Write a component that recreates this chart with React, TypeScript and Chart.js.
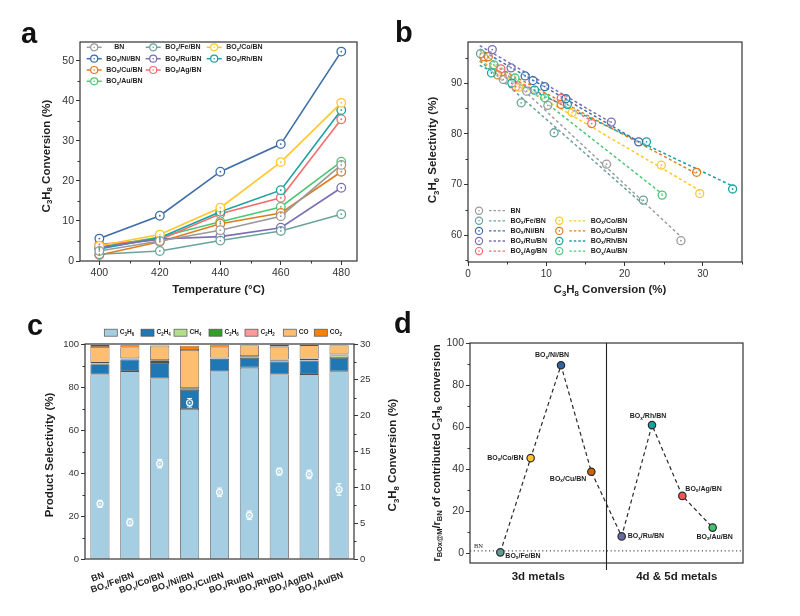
import React, { useEffect, useRef } from "react";
import { Chart, registerables } from "chart.js";

Chart.register(...registerables);

const SANS = "'Liberation Sans', Arial, Helvetica, sans-serif";
const SERIF = "'Liberation Serif', 'DejaVu Serif', serif";
const INK = "#1e1e1e";
const AXIS = "#333";

// ---------- shared catalyst naming / colours ----------
const catalystNames = ["BN", "BO_x/Fe/BN", "BO_x/Co/BN", "BO_x/Ni/BN", "BO_x/Ru/BN", "BO_x/Rh/BN", "BO_x/Cu/BN", "BO_x/Ag/BN", "BO_x/Au/BN"];
const catalystColors = ["#9a9a9a", "#6aa39b", "#ffc72c", "#3d6ea8", "#7b6fb3", "#17a2a2", "#e07b20", "#f26d6d", "#4cc776"];

// ---------- (a) C3H8 conversion vs temperature ----------
const temperatures = [400, 420, 440, 460, 480];
const tempTicks = [400, 420, 440, 460, 480];
const convTicksA = [0, 10, 20, 30, 40, 50];
const convBN = [2.5, 5.0, 7.7, 11.2, 24.0];
const convFe = [1.7, 2.5, 5.1, 7.5, 11.7];
const convCo = [3.8, 6.6, 13.3, 24.7, 39.5];
const convNi = [5.6, 11.3, 22.3, 29.2, 52.3];
const convRu = [3.4, 5.5, 6.1, 8.3, 18.3];
const convRh = [3.0, 5.8, 12.3, 17.7, 37.7];
const convCu = [1.5, 4.8, 9.3, 12.0, 22.3];
const convAg = [4.2, 5.3, 11.8, 15.8, 35.4];
const convAu = [3.4, 6.0, 9.8, 13.5, 24.8];
const conversionA = [convBN, convFe, convCo, convNi, convRu, convRh, convCu, convAg, convAu];

// ---------- (b) C3H6 selectivity vs C3H8 conversion ----------
const convTicksB = [0, 10, 20, 30];
const selTicksB = [60, 70, 80, 90];
const xB_BN = [4.5, 7.5, 10.2, 17.7, 27.2];
const yB_BN = [90.7, 88.4, 85.6, 74.0, 58.9];
const xB_Fe = [1.6, 6.8, 11.0, 22.4];
const yB_Fe = [95.8, 86.1, 80.2, 66.9];
const xB_Co = [6.5, 13.3, 24.7, 29.6];
const yB_Co = [89.2, 84.2, 73.8, 68.2];
const xB_Ni = [7.3, 8.3, 9.8, 12.5, 21.8];
const yB_Ni = [91.4, 90.5, 89.3, 86.9, 78.4];
const xB_Ru = [3.1, 5.5, 18.3];
const yB_Ru = [96.6, 93.0, 82.3];
const xB_Rh = [3.0, 5.6, 8.5, 12.7, 22.8, 33.8];
const yB_Rh = [92.0, 90.0, 88.6, 85.8, 78.4, 69.1];
const xB_Cu = [2.0, 2.6, 3.8, 11.9, 29.2];
const yB_Cu = [95.2, 95.2, 91.6, 85.8, 72.4];
const xB_Ag = [4.2, 6.1, 11.9, 15.8];
const yB_Ag = [92.8, 89.3, 87.0, 82.0];
const xB_Au = [3.3, 6.0, 9.8, 24.8];
const yB_Au = [93.6, 91.0, 87.1, 67.9];
const xB = [xB_BN, xB_Fe, xB_Co, xB_Ni, xB_Ru, xB_Rh, xB_Cu, xB_Ag, xB_Au];
const yB = [yB_BN, yB_Fe, yB_Co, yB_Ni, yB_Ru, yB_Rh, yB_Cu, yB_Ag, yB_Au];
const fitFrom = 1.5;

// ---------- (c) product selectivity at 440 °C ----------
const cCategories = ["BN", "BO_x/Fe/BN", "BO_x/Co/BN", "BO_x/Ni/BN", "BO_x/Cu/BN", "BO_x/Ru/BN", "BO_x/Rh/BN", "BO_x/Ag/BN", "BO_x/Au/BN"];
const products = ["C_3H_6", "C_2H_4", "CH_4", "C_2H_6", "C_2H_2", "CO", "CO_2"];
const productColors = ["#a6cee3", "#1f78b4", "#b2df8a", "#33a02c", "#fb9a99", "#fdbf6f", "#ff7f00"];
const selC3H6 = [85.8, 87.4, 84.0, 69.8, 87.2, 89.0, 85.8, 86.0, 87.3];
const selC2H4 = [4.8, 5.4, 7.2, 8.8, 5.9, 4.5, 6.1, 6.3, 6.2];
const selCH4 = [0.2, 0.2, 0.4, 0.3, 0.2, 0.2, 0.3, 0.2, 1.2];
const selC2H6 = [0.3, 0.3, 0.8, 0.5, 0.3, 0.6, 0.5, 0.6, 0.4];
const selC2H2 = [0.1, 0.1, 0.1, 0.1, 0.1, 0.1, 0.1, 0.1, 0.1];
const selCO = [7.4, 5.0, 6.7, 17.7, 4.7, 4.9, 6.0, 6.3, 4.1];
const selCO2 = [0.9, 1.0, 0.2, 2.0, 1.0, 0.2, 0.8, 0.2, 0.2];
const selectivitySeries = [selC3H6, selC2H4, selCH4, selC2H6, selC2H2, selCO, selCO2];
const selTicksC = [0, 20, 40, 60, 80, 100];
const convTicksC = [0, 5, 10, 15, 20, 25, 30];
const conv440 = [7.7, 5.1, 13.3, 21.8, 9.3, 6.1, 12.2, 11.8, 9.7];
const conv440Err = [0.5, 0.5, 0.6, 0.6, 0.6, 0.6, 0.5, 0.6, 0.8];

// ---------- (d) relative contribution to C3H8 conversion ----------
const dCatalysts = ["BO_x/Fe/BN", "BO_x/Co/BN", "BO_x/Ni/BN", "BO_x/Cu/BN", "BO_x/Ru/BN", "BO_x/Rh/BN", "BO_x/Ag/BN", "BO_x/Au/BN"];
const dRatio = [0.3, 45.2, 89.4, 38.7, 7.9, 60.9, 27.2, 12.1];
const dColors = ["#5f9a96", "#ffc820", "#2f64a0", "#c8650f", "#6a6aaa", "#12a5a0", "#f05858", "#3cc46e"];
const dTicks = [0, 20, 40, 60, 80, 100];
const bnLevel = 1;
const groupSplit = 3.5;
const groupLabels = ["3d metals", "4d & 5d metals"];
// label placement next to each point: [dx, dy, align]
const dLabelPlacement: [number, number, "left" | "center" | "right"][] = [
  [5, 3.5, "left"], [-7, 0, "right"], [-9, -10, "center"], [-5, 7, "right"],
  [6, 0, "left"], [-4, -9, "center"], [3, -7, "left"], [2, 9.5, "center"],
];

// ---------- drawing helpers ----------
type Piece = { t: string; sub: boolean };
function richPieces(s: string): Piece[] {
  const out: Piece[] = [];
  let buf = "";
  let i = 0;
  while (i < s.length) {
    if (s[i] === "_") {
      if (buf) { out.push({ t: buf, sub: false }); buf = ""; }
      if (s[i + 1] === "{") {
        const j = s.indexOf("}", i + 2);
        out.push({ t: s.slice(i + 2, j), sub: true });
        i = j + 1;
      } else {
        out.push({ t: s[i + 1], sub: true });
        i += 2;
      }
      continue;
    }
    buf += s[i];
    i++;
  }
  if (buf) out.push({ t: buf, sub: false });
  return out;
}

type RichOpts = { size: number; bold?: boolean; color?: string; align?: "left" | "center" | "right"; rotate?: number; family?: string };
function drawRich(ctx: CanvasRenderingContext2D, s: string, x: number, y: number, o: RichOpts) {
  const pieces = richPieces(s);
  const weight = o.bold === false ? "normal" : "bold";
  const fam = o.family || SANS;
  const big = `${weight} ${o.size}px ${fam}`;
  const small = `${weight} ${(o.size * 0.68).toFixed(2)}px ${fam}`;
  ctx.save();
  ctx.translate(x, y);
  if (o.rotate) ctx.rotate(o.rotate);
  ctx.textBaseline = "middle";
  ctx.textAlign = "left";
  ctx.fillStyle = o.color || INK;
  const widths = pieces.map((p) => { ctx.font = p.sub ? small : big; return ctx.measureText(p.t).width; });
  const total = widths.reduce((a, b) => a + b, 0);
  let cx = o.align === "center" ? -total / 2 : o.align === "right" ? -total : 0;
  pieces.forEach((p, k) => {
    ctx.font = p.sub ? small : big;
    ctx.fillText(p.t, cx, p.sub ? o.size * 0.3 : 0);
    cx += widths[k];
  });
  ctx.restore();
}

function drawFrame(chart: any) {
  const { ctx, chartArea: a } = chart;
  ctx.save();
  ctx.strokeStyle = AXIS;
  ctx.lineWidth = 1.2;
  ctx.strokeRect(a.left, a.top, a.right - a.left, a.bottom - a.top);
  ctx.restore();
}

function drawMinor(chart: any, id: string, step: number, len = 2.5) {
  const s = chart.scales[id];
  const { ctx, chartArea: a } = chart;
  const majors = s.ticks.map((t: any) => t.value);
  ctx.save();
  ctx.strokeStyle = AXIS;
  ctx.lineWidth = 1;
  for (let v = Math.ceil(s.min / step) * step; v <= s.max + 1e-9; v += step) {
    if (majors.some((m: number) => Math.abs(m - v) < 1e-6)) continue;
    const p = Math.round(s.getPixelForValue(v)) + 0.5;
    ctx.beginPath();
    if (s.isHorizontal()) { ctx.moveTo(p, a.bottom); ctx.lineTo(p, a.bottom + len); }
    else if (s.position === "right") { ctx.moveTo(a.right, p); ctx.lineTo(a.right + len, p); }
    else { ctx.moveTo(a.left, p); ctx.lineTo(a.left - len, p); }
    ctx.stroke();
  }
  ctx.restore();
}

function drawCenterDots(chart: any) {
  const { ctx } = chart;
  chart.data.datasets.forEach((ds: any, i: number) => {
    if (!ds.centerDot) return;
    const meta = chart.getDatasetMeta(i);
    ctx.save();
    ctx.fillStyle = ds.dotColor || ds.pointBorderColor;
    meta.data.forEach((el: any) => {
      ctx.beginPath();
      ctx.arc(el.x, el.y, 0.9, 0, Math.PI * 2);
      ctx.fill();
    });
    ctx.restore();
  });
}

function marker(ctx: CanvasRenderingContext2D, x: number, y: number, r: number, color: string) {
  ctx.save();
  ctx.beginPath();
  ctx.arc(x, y, r, 0, Math.PI * 2);
  ctx.fillStyle = "#fff";
  ctx.fill();
  ctx.strokeStyle = color;
  ctx.lineWidth = 1.2;
  ctx.stroke();
  ctx.beginPath();
  ctx.arc(x, y, 0.8, 0, Math.PI * 2);
  ctx.fillStyle = color;
  ctx.fill();
  ctx.restore();
}

function axis(o: { position: string; min: number; max: number; ticks: number[]; size: number; font: number; stacked?: boolean }) {
  const horizontal = o.position === "bottom" || o.position === "top";
  return {
    type: "linear",
    position: o.position,
    min: o.min,
    max: o.max,
    stacked: o.stacked,
    afterBuildTicks: (s: any) => { s.ticks = o.ticks.map((v) => ({ value: v })); },
    afterFit: (s: any) => { if (horizontal) s.height = o.size; else s.width = o.size; },
    grid: { display: true, drawOnChartArea: false, drawTicks: true, tickLength: 4, color: AXIS, tickColor: AXIS, lineWidth: 1 },
    border: { display: false },
    ticks: { color: AXIS, padding: 2, font: { family: SANS, size: o.font }, maxRotation: 0, autoSkip: false },
  };
}

function baseOptions(pad: { left: number; top: number; right: number; bottom: number }) {
  return {
    responsive: false,
    animation: false,
    devicePixelRatio: 1,
    events: [],
    layout: { padding: pad },
    plugins: { legend: { display: false }, tooltip: { enabled: false } },
  };
}

// ---------- panel (a) ----------
const legendARows = [[0, 1, 2], [3, 4, 5], [6, 7], [8]];
const legendACols = [86.7, 145.7, 206.7];
const legendARowY = [47.3, 58.7, 70, 81.3];

function configA(): any {
  const datasets = conversionA.map((vals, k) => ({
    type: "line",
    label: catalystNames[k],
    data: temperatures.map((t, i) => ({ x: t, y: vals[i] })),
    borderColor: catalystColors[k],
    borderWidth: 1.6,
    pointRadius: 4.3,
    pointBorderWidth: 1.3,
    pointBorderColor: catalystColors[k],
    pointBackgroundColor: "#fff",
    centerDot: true,
  }));
  return {
    type: "line",
    data: { datasets },
    options: {
      ...baseOptions({ left: 40, top: 42, right: 443, bottom: 327 }),
      scales: {
        x: axis({ position: "bottom", min: 393.6, max: 485.2, ticks: tempTicks, size: 28, font: 10.5 }),
        y: axis({ position: "left", min: 0, max: 54.7, ticks: convTicksA, size: 40, font: 10.5 }),
      },
    },
    plugins: [{
      id: "panelA",
      afterDatasetsDraw: (chart: any) => drawCenterDots(chart),
      afterDraw: (chart: any) => {
        const { ctx, chartArea: a } = chart;
        drawFrame(chart);
        drawMinor(chart, "x", 10);
        drawMinor(chart, "y", 5);
        drawRich(ctx, "Temperature (°C)", (a.left + a.right) / 2, 290, { size: 11.5, align: "center" });
        drawRich(ctx, "C_3H_8 Conversion (%)", 46.5, 156, { size: 11.5, align: "center", rotate: -Math.PI / 2 });
        legendARows.forEach((row, r) => row.forEach((k, c) => {
          const x = legendACols[c];
          const y = legendARowY[r];
          ctx.save();
          ctx.strokeStyle = catalystColors[k];
          ctx.lineWidth = 1.5;
          ctx.beginPath();
          ctx.moveTo(x, y);
          ctx.lineTo(x + 15, y);
          ctx.stroke();
          ctx.restore();
          marker(ctx, x + 7.5, y, 3.5, catalystColors[k]);
          drawRich(ctx, catalystNames[k], x + 19.5 + (k === 0 ? 8 : 0), y, { size: 7 });
        }));
      },
    }],
  };
}

// ---------- panel (b) ----------
const legendBCols = [[0, 1, 3, 4, 7], [-1, 2, 6, 5, 8]];
const legendBMarkerX = [479, 559.3];
const legendBRow0 = 210.7;
const legendBRowStep = 10.1;

function fitLine(xs: number[], ys: number[]) {
  const n = xs.length;
  const mx = xs.reduce((a, b) => a + b, 0) / n;
  const my = ys.reduce((a, b) => a + b, 0) / n;
  let sxy = 0;
  let sxx = 0;
  xs.forEach((x, i) => { sxy += (x - mx) * (ys[i] - my); sxx += (x - mx) * (x - mx); });
  const slope = sxy / sxx;
  const icpt = my - slope * mx;
  const xEnd = Math.max(...xs);
  return [{ x: fitFrom, y: icpt + slope * fitFrom }, { x: xEnd, y: icpt + slope * xEnd }];
}

function configB(): any {
  const lines = xB.map((xs, k) => ({
    type: "scatter",
    label: catalystNames[k] + " fit",
    data: fitLine(xs, yB[k]),
    showLine: true,
    borderColor: catalystColors[k],
    borderWidth: 1.5,
    borderDash: [3, 2.5],
    pointRadius: 0,
    order: 2,
  }));
  const points = xB.map((xs, k) => ({
    type: "scatter",
    label: catalystNames[k],
    data: xs.map((x, i) => ({ x, y: yB[k][i] })),
    pointRadius: 4,
    pointBorderWidth: 1.3,
    pointBorderColor: catalystColors[k],
    pointBackgroundColor: "rgba(255,255,255,0.35)",
    centerDot: true,
    order: 1,
  }));
  return {
    type: "scatter",
    data: { datasets: [...lines, ...points] },
    options: {
      ...baseOptions({ left: 428, top: 42, right: 58, bottom: 326 }),
      scales: {
        x: axis({ position: "bottom", min: 0, max: 35, ticks: convTicksB, size: 28, font: 10 }),
        y: axis({ position: "left", min: 54.7, max: 98.1, ticks: selTicksB, size: 40, font: 10 }),
      },
    },
    plugins: [{
      id: "panelB",
      afterDatasetsDraw: (chart: any) => drawCenterDots(chart),
      afterDraw: (chart: any) => {
        const { ctx, chartArea: a } = chart;
        drawFrame(chart);
        drawMinor(chart, "x", 5);
        drawMinor(chart, "y", 5);
        drawRich(ctx, "C_3H_8 Conversion (%)", (a.left + a.right) / 2 + 5, 290, { size: 11.5, align: "center" });
        drawRich(ctx, "C_3H_6 Selectivity (%)", 433, 150, { size: 11.5, align: "center", rotate: -Math.PI / 2 });
        legendBCols.forEach((col, c) => col.forEach((k, r) => {
          if (k < 0) return;
          const mx = legendBMarkerX[c];
          const y = legendBRow0 + r * legendBRowStep;
          marker(ctx, mx, y, 3.6, catalystColors[k]);
          ctx.save();
          ctx.strokeStyle = catalystColors[k];
          ctx.lineWidth = 1.3;
          ctx.setLineDash([2.5, 2]);
          ctx.beginPath();
          ctx.moveTo(mx + 10, y);
          ctx.lineTo(mx + 28, y);
          ctx.stroke();
          ctx.restore();
          drawRich(ctx, catalystNames[k], mx + 31.5, y, { size: 7 });
        }));
      },
    }],
  };
}

// ---------- panel (c) ----------
const legendCBoxX = [104.3, 141, 174, 209, 245, 283.3, 314.3];
const legendCY = 332.7;

function configC(): any {
  const bars = selectivitySeries.map((vals, k) => ({
    type: "bar",
    label: products[k],
    data: vals,
    backgroundColor: productColors[k],
    borderColor: "#505050",
    borderWidth: 0.8,
    borderSkipped: false,
    stack: "sel",
    yAxisID: "y",
    barPercentage: 0.64,
    categoryPercentage: 1,
    order: 1,
  }));
  const conv = {
    type: "line",
    label: "C3H8 conversion",
    data: conv440,
    yAxisID: "y1",
    showLine: false,
    pointRadius: 3,
    pointBorderWidth: 1.2,
    pointBorderColor: "#ffffff",
    pointBackgroundColor: "rgba(255,255,255,0.12)",
    centerDot: true,
    dotColor: "#ffffff",
    order: 0,
  };
  return {
    type: "bar",
    data: { labels: cCategories, datasets: [...bars, conv] },
    options: {
      ...baseOptions({ left: 45, top: 344, right: 416, bottom: 57 }),
      scales: {
        x: { type: "category", display: false, stacked: true, offset: true },
        y: axis({ position: "left", min: 0, max: 100, ticks: selTicksC, size: 40, font: 9.5, stacked: true }),
        y1: axis({ position: "right", min: 0, max: 30, ticks: convTicksC, size: 30, font: 9.5 }),
      },
    },
    plugins: [{
      id: "panelC",
      afterDatasetsDraw: (chart: any) => {
        const { ctx } = chart;
        const meta = chart.getDatasetMeta(chart.data.datasets.length - 1);
        const y1 = chart.scales.y1;
        ctx.save();
        ctx.strokeStyle = "#ffffff";
        ctx.lineWidth = 1;
        meta.data.forEach((el: any, i: number) => {
          const top = y1.getPixelForValue(conv440[i] + conv440Err[i]);
          const bot = y1.getPixelForValue(conv440[i] - conv440Err[i]);
          ctx.beginPath();
          ctx.moveTo(el.x, top); ctx.lineTo(el.x, el.y - 3);
          ctx.moveTo(el.x, bot); ctx.lineTo(el.x, el.y + 3);
          ctx.moveTo(el.x - 2.5, top); ctx.lineTo(el.x + 2.5, top);
          ctx.moveTo(el.x - 2.5, bot); ctx.lineTo(el.x + 2.5, bot);
          ctx.stroke();
        });
        ctx.restore();
        drawCenterDots(chart);
      },
      afterDraw: (chart: any) => {
        const { ctx } = chart;
        drawFrame(chart);
        drawMinor(chart, "y", 10);
        drawMinor(chart, "y1", 2.5);
        const xs = chart.scales.x;
        cCategories.forEach((name, i) => {
          drawRich(ctx, name, xs.getPixelForValue(i) + 4, 575, { size: 9, align: "right", rotate: -20 * Math.PI / 180 });
        });
        drawRich(ctx, "Product Selectivity (%)", 50, 455, { size: 11.5, align: "center", rotate: -Math.PI / 2 });
        drawRich(ctx, "C_3H_8 Conversion (%)", 393, 455, { size: 11.5, align: "center", rotate: -Math.PI / 2 });
        products.forEach((p, k) => {
          const bx = legendCBoxX[k];
          ctx.save();
          ctx.fillStyle = productColors[k];
          ctx.fillRect(bx, legendCY - 3.5, 13, 7);
          ctx.strokeStyle = "#505050";
          ctx.lineWidth = 0.7;
          ctx.strokeRect(bx, legendCY - 3.5, 13, 7);
          ctx.restore();
          drawRich(ctx, p, bx + 15.5, legendCY, { size: 6.5 });
        });
      },
    }],
  };
}

// ---------- panel (d) ----------
function configD(): any {
  return {
    type: "scatter",
    data: {
      datasets: [{
        label: "ratio",
        data: dRatio.map((v, i) => ({ x: i, y: v })),
        showLine: true,
        borderColor: "#2a2a2a",
        borderWidth: 1.2,
        borderDash: [4, 3],
        pointRadius: 3.7,
        pointBorderWidth: 1.2,
        pointBorderColor: "#2a2a2a",
        pointBackgroundColor: dColors,
      }],
    },
    options: {
      ...baseOptions({ left: 430, top: 343, right: 57, bottom: 53 }),
      scales: {
        x: { type: "linear", display: false, min: -1, max: 8 },
        y: axis({ position: "left", min: -4.76, max: 100, ticks: dTicks, size: 40, font: 10.5 }),
      },
    },
    plugins: [{
      id: "panelD",
      beforeDatasetsDraw: (chart: any) => {
        const { ctx, chartArea: a } = chart;
        const ys = chart.scales.y;
        const xs = chart.scales.x;
        const yb = ys.getPixelForValue(bnLevel);
        ctx.save();
        ctx.strokeStyle = "#555";
        ctx.lineWidth = 1.2;
        ctx.setLineDash([1.2, 2.6]);
        ctx.beginPath();
        ctx.moveTo(a.left, yb);
        ctx.lineTo(a.right, yb);
        ctx.stroke();
        ctx.setLineDash([]);
        ctx.strokeStyle = "#222";
        ctx.lineWidth = 1.1;
        const xd = xs.getPixelForValue(groupSplit);
        ctx.beginPath();
        ctx.moveTo(xd, a.top);
        ctx.lineTo(xd, a.bottom + 7);
        ctx.stroke();
        ctx.restore();
        drawRich(ctx, "BN", a.left + 4, yb - 5, { size: 6.5, bold: false, family: SERIF, align: "left" });
      },
      afterDraw: (chart: any) => {
        const { ctx, chartArea: a } = chart;
        drawFrame(chart);
        drawMinor(chart, "y", 10);
        const meta = chart.getDatasetMeta(0);
        meta.data.forEach((el: any, i: number) => {
          const [dx, dy, align] = dLabelPlacement[i];
          drawRich(ctx, dCatalysts[i], el.x + dx, el.y + dy, { size: 7, align });
        });
        const xs = chart.scales.x;
        const xd = xs.getPixelForValue(groupSplit);
        drawRich(ctx, groupLabels[0], (a.left + xd) / 2, 577, { size: 11.5, align: "center" });
        drawRich(ctx, groupLabels[1], (xd + a.right) / 2 + 2, 577, { size: 11.5, align: "center" });
        drawRich(ctx, "r_{BOx@M}/r_{BN} of contributed C_3H_8 conversion", 437, 453, { size: 11, align: "center", rotate: -Math.PI / 2 });
      },
    }],
  };
}

const letterStyle = (left: number, top: number): React.CSSProperties => ({
  position: "absolute",
  left,
  top,
  fontFamily: SANS,
  fontWeight: "bold",
  fontSize: 29,
  lineHeight: 1,
  color: "#111",
});

export default function App() {
  const refA = useRef<HTMLCanvasElement>(null);
  const refB = useRef<HTMLCanvasElement>(null);
  const refC = useRef<HTMLCanvasElement>(null);
  const refD = useRef<HTMLCanvasElement>(null);

  useEffect(() => {
    const charts = [
      new Chart(refA.current as HTMLCanvasElement, configA()),
      new Chart(refB.current as HTMLCanvasElement, configB()),
      new Chart(refC.current as HTMLCanvasElement, configC()),
      new Chart(refD.current as HTMLCanvasElement, configD()),
    ];
    return () => charts.forEach((c) => c.destroy());
  }, []);

  const canvasStyle: React.CSSProperties = { position: "absolute", left: 0, top: 0 };
  return (
    <div style={{ position: "absolute", left: 0, top: 0, width: 800, height: 616, background: "#fff", overflow: "hidden" }}>
      <canvas ref={refA} width={800} height={616} style={canvasStyle} />
      <canvas ref={refB} width={800} height={616} style={canvasStyle} />
      <canvas ref={refC} width={800} height={616} style={canvasStyle} />
      <canvas ref={refD} width={800} height={616} style={canvasStyle} />
      <div style={letterStyle(21, 18.5)}>a</div>
      <div style={letterStyle(395, 17.5)}>b</div>
      <div style={letterStyle(27, 310.5)}>c</div>
      <div style={letterStyle(394, 309)}>d</div>
    </div>
  );
}
